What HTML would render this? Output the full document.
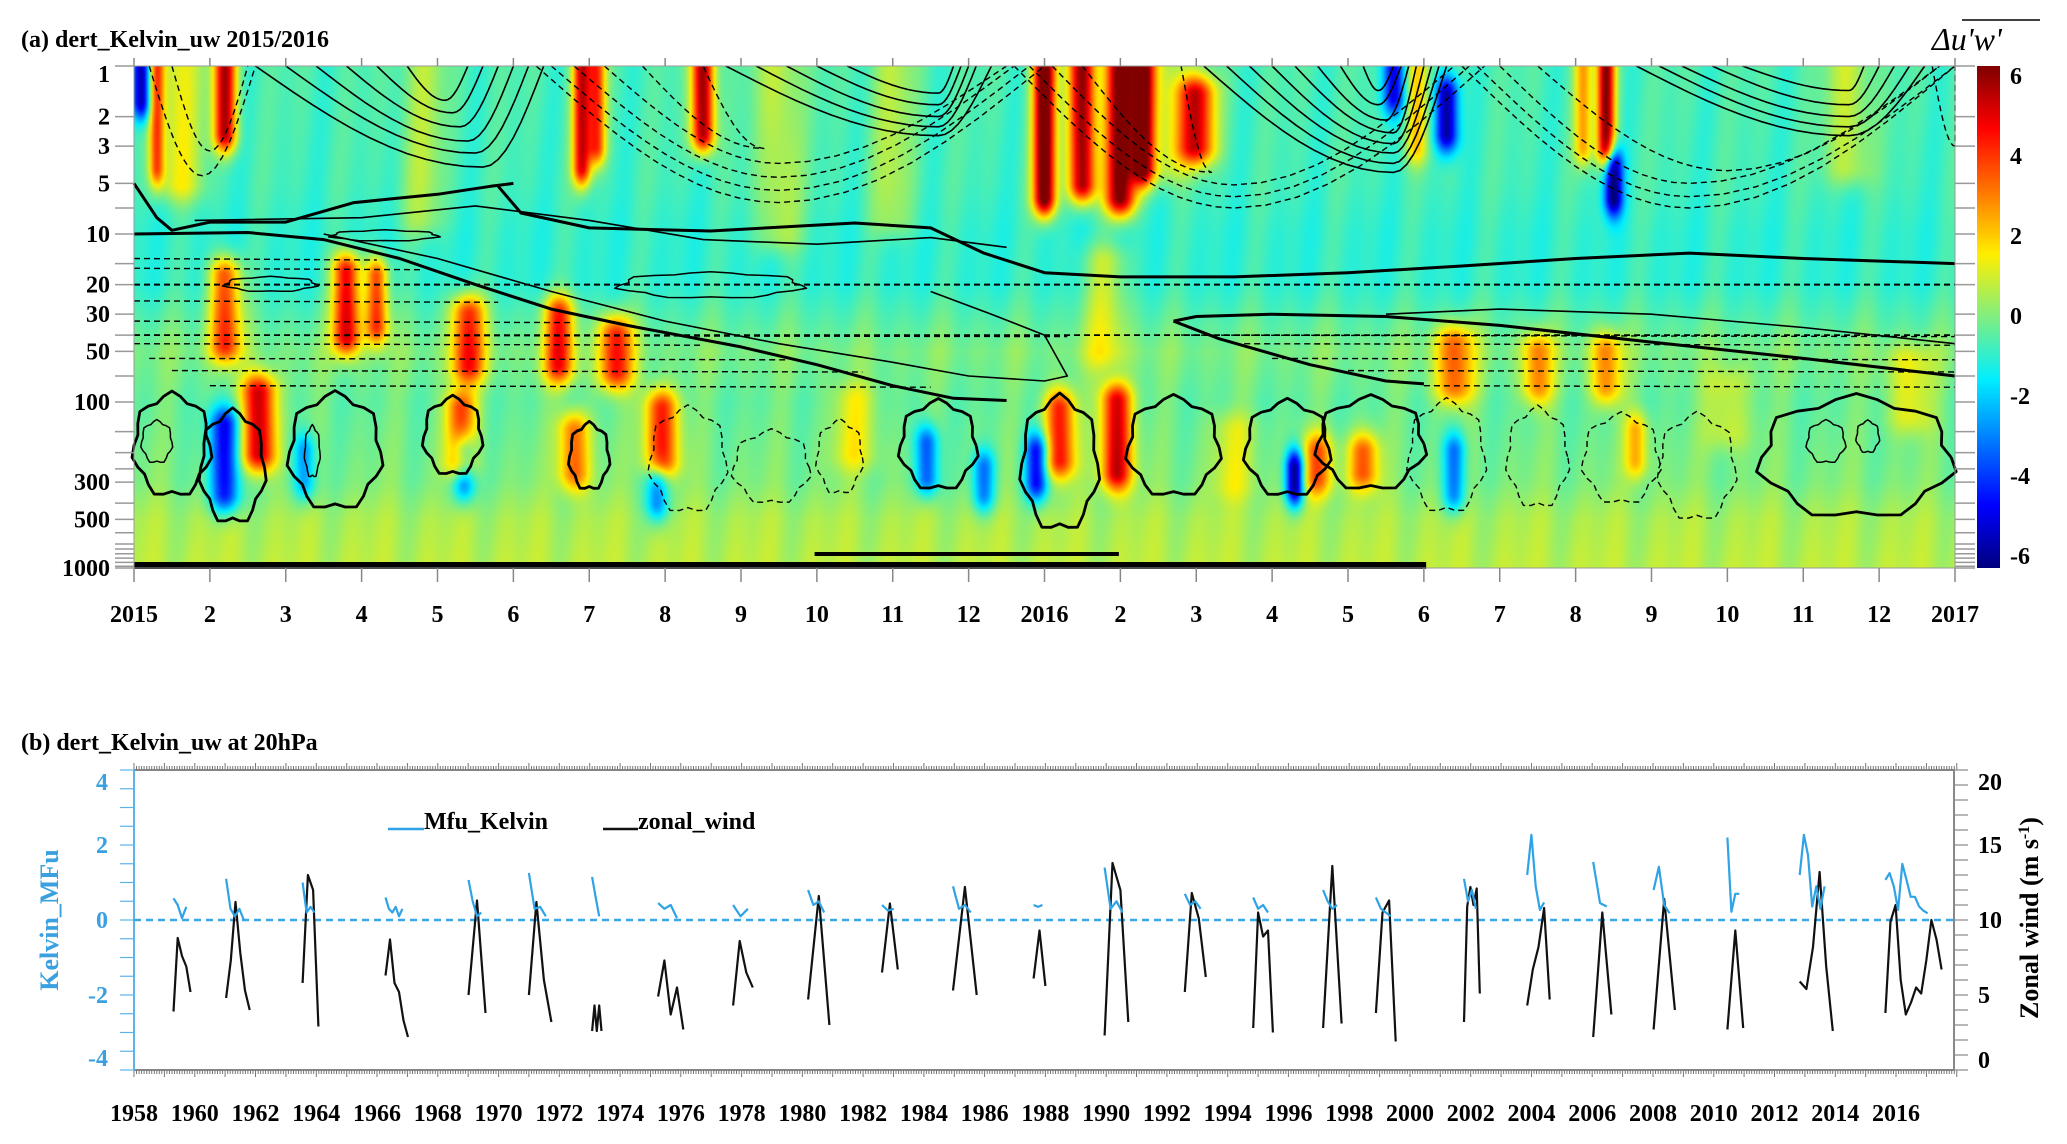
<!DOCTYPE html>
<html><head><meta charset="utf-8"><style>
html,body{margin:0;padding:0;background:#fff;}
#wrap{position:relative;width:2067px;height:1144px;overflow:hidden;font-family:"Liberation Serif",serif;}
#heat{position:absolute;left:134px;top:66px;width:1821px;height:502px;}
#svg{position:absolute;left:0;top:0;}
text{font-family:"Liberation Serif",serif;font-weight:bold;}
</style></head><body>
<div id="wrap">
<canvas id="heat" width="911" height="251"></canvas>
<svg id="svg" width="2067" height="1144" xmlns="http://www.w3.org/2000/svg">
<defs><linearGradient id="cbg" x1="0" y1="1" x2="0" y2="0"></linearGradient></defs>
<text x="21" y="47" font-size="24">(a) dert_Kelvin_uw 2015/2016</text>
<text x="21" y="750" font-size="24">(b) dert_Kelvin_uw at 20hPa</text>
<g id="topg"></g><g id="cbar"></g><g id="bot"></g>
</svg>
</div>
<script>
// ---------- Panel (a) data ----------
const monthLabels=["2015","2","3","4","5","6","7","8","9","10","11","12","2016","2","3","4","5","6","7","8","9","10","11","12","2017"];
const pressureTicks=[1,2,3,5,7,10,15,20,30,40,50,70,100,150,200,250,300,400,500,600,700,750,800,850,900,950,1000];
const pressureLabels=[1,2,3,5,10,20,30,50,100,300,500,1000];
const baseLevels=[1,5,10,20,50,100,300,500,1000];
const baseValues=[-0.6,-0.7,-0.9,-0.9,0.0,-0.3,0.0,0.5,0.7];
const blobMonth=[1.2,0.3,1.2,2.8,3.2,4.4,4.3,5.6,6.35,1.65,5.9,6.1,7.5,6.95,5.8,12.0,12.5,13.0,13.3,12.2,12.95,14.0,15.6,16.2,17.4,18.5,19.4,19.4,19.1,19.8,16.9,1.2,0.1,4.35,6.9,10.45,11.2,11.9,15.3,17.3,19.5,17.4,16.6,2.25,8.5,10.0,12.8,13.6,3.8,9.5,14.5,21.0,22.6,23.4,0.6];
const blobPTop=[1,1,18,17,18,30,110,30,40,90,1,1,1,110,150,1,1,1,1,110,100,1.5,200,200,45,50,1,50,1,150,1,140,1,200,300,180,250,200,250,1.5,4,200,1,200,1,1,15,1,1,100,150,80,1,60,1];
const blobPBot=[2.5,4,45,40,35,60,220,60,65,200,4,3,2.5,220,260,6,5,6,4,220,260,3,280,260,80,80,3,80,3,220,3,350,1.6,300,400,280,350,300,320,2.5,6,350,1.5,300,10,8,50,4,8,200,300,150,4,120,5];
const blobAmp=[6,4,4.5,5.5,4.5,4.5,4,4.5,4.5,5.5,5.5,4.5,6.5,4.5,3.5,7.5,6.5,7,6.5,4.5,5.5,5.5,3.5,3.5,3.5,3,6.5,3,3,2.5,2.5,-4.5,-5,-3.5,-3,-3.5,-3,-4.5,-6,-5,-5.5,-3,-4,-2.5,1.5,1.2,1.5,1.5,1.2,1.5,1.2,1.2,1.5,1.5,2];
const blobWidth=[0.15,0.1,0.2,0.18,0.15,0.22,0.2,0.2,0.22,0.22,0.12,0.12,0.15,0.22,0.2,0.15,0.18,0.2,0.15,0.2,0.2,0.25,0.2,0.2,0.25,0.2,0.12,0.2,0.12,0.15,0.15,0.2,0.12,0.15,0.15,0.15,0.15,0.15,0.12,0.15,0.12,0.15,0.15,0.15,0.3,0.3,0.3,0.3,0.3,0.3,0.3,0.3,0.3,0.3,0.3];
const lineUpper=[[0,5],[0.3,8],[0.5,9.5],[1,8.5],[2,8.5],[2.9,6.5],[4,5.8],[4.7,5.2],[5.0,5]];
const lineMid=[[4.8,5.2],[5.1,7.5],[6,9.2],[7.6,9.6],[9.5,8.6],[10.5,9.2],[11.2,13],[12,17],[13,18],[14.5,18],[16,17],[17.5,15.5],[19,14],[20.5,13],[22,14],[24,15]];
const lineDesc=[[0,10],[1.5,9.8],[2.5,10.8],[3.5,14],[4.5,20],[5.5,28],[6.5,35],[8,47],[9,60],[10,80],[10.8,95],[11.5,98]];
const lineDescThin=[[2.5,10],[4,14],[5.5,22],[7,33],[8.5,45],[10,58],[11,70],[12,75],[12.3,70],[12.0,40],[11.3,30],[10.5,22]];
const lineRight=[[13.7,33],[14,31],[15,30],[16.5,31],[18,35],[20,44],[22,55],[24,70]];
const lineRightB=[[13.7,33],[14.3,42],[15.5,60],[16.5,75],[17,78]];
const lineRightThin=[[16.5,30],[18,28],[20,30],[22,36],[24,45]];
const lineInner=[[0.8,8.3],[3,8.0],[4.5,6.8],[6,8.3],[7.5,10.8],[9,11.5],[10.5,10.5],[11.5,12]];
const solidArcs=[[1.6,4.6,4.0,5.4],[2.0,4.5,3.3,5.2],[2.4,4.4,2.8,5.0],[2.8,4.3,2.3,4.8],[3.2,4.2,1.9,4.6],[3.6,4.1,1.6,4.4],
 [7.8,10.6,2.6,11.3],[8.2,10.6,2.3,11.1],[8.6,10.6,2.0,11.0],[9.0,10.6,1.7,10.9],[9.4,10.6,1.45,10.8],
 [14.1,16.6,4.3,17.3],[14.4,16.6,3.8,17.2],[14.7,16.6,3.3,17.1],[15.0,16.6,2.9,17.0],[15.3,16.6,2.5,16.9],[15.6,16.5,2.1,16.8],[15.9,16.4,1.7,16.7],[16.2,16.4,1.4,16.6],
 [19.8,22.6,2.6,23.6],[20.1,22.6,2.3,23.4],[20.4,22.6,2.0,23.2],[20.8,22.6,1.7,23.0],[21.2,22.6,1.4,22.8]];
const dashedArcs=[[0.2,0.9,4.5,1.6],[0.5,1.0,3.2,1.5],[5.3,8.5,6.5,12],[5.5,8.5,5.5,11.8],[5.8,8.5,4.6,11.6],[6.2,8.5,3.8,11.5],[6.7,8.3,3.1,7.5],
 [11.6,14.5,7.0,17.8],[11.8,14.5,6.0,17.6],[12.1,14.5,5.1,17.4],[12.5,14.2,4.3,13.8],[17.5,20.5,7,24],[17.7,20.5,6,24],[18,20.5,5,23.8],[18.5,21,4.2,23.8],[23.7,24,3,24]];
const dashLineP=[14,16,25,33,40,45,55,65,80,40,45,55,65,80];
const dashLineM0=[0,0,0,0,0,0,0.2,0.5,1,13.8,14.5,15,16,17];
const dashLineM1=[3.2,3.8,4.8,5.8,12.3,7.5,8.6,9.6,10.5,24,24,24,24,24];
const thickLoops=[[0.5,91,360,0.5],[1.3,115,520,0.42],[2.65,91,430,0.6],[4.2,95,270,0.38],[6.0,135,330,0.26],[10.6,100,330,0.5],[12.2,95,570,0.5],[13.7,95,360,0.6],[15.2,100,360,0.55],[16.3,95,330,0.7],[22.7,95,480,1.25]];
const thinLoops=[[0.3,130,230,0.2],[2.35,140,280,0.1],[22.3,130,230,0.25],[22.85,130,200,0.15],[3.3,9.5,11,0.7],[7.6,17,24,1.2],[1.8,18,22,0.6]];
const dashLoops=[[7.3,110,450,0.5],[8.4,150,400,0.5],[9.3,130,350,0.3],[17.3,100,450,0.5],[18.5,110,420,0.4],[19.6,120,400,0.5],[20.6,120,500,0.5]];
const cbTicks=[6,4,2,0,-2,-4,-6];

// ---------- Panel (b) data ----------
const yearLabels=[1958,1960,1962,1964,1966,1968,1970,1972,1974,1976,1978,1980,1982,1984,1986,1988,1990,1992,1994,1996,1998,2000,2002,2004,2006,2008,2010,2012,2014,2016];
const mfuTicks=[4,2,0,-2,-4];
const windTicks=[20,15,10,5,0];
const episodeStart=[1959.3,1961.03,1963.55,1966.28,1969.01,1971.0,1973.08,1975.25,1977.72,1980.19,1982.62,1984.96,1987.61,1989.95,1992.59,1994.84,1997.14,1998.88,2001.78,2003.86,2006.03,2008.02,2010.45,2012.83,2015.65];
const episodeEnd=[1959.86,1961.81,1964.07,1967.02,1969.57,1971.74,1973.39,1976.08,1978.37,1980.89,1983.14,1985.74,1988.0,1990.73,1993.28,1995.49,1997.75,1999.53,2002.3,2004.6,2006.63,2008.72,2010.97,2013.92,2017.5];
const windSeries=[[3.9,8.8,7.6,6.9,5.2],[4.8,7.3,11.2,7.8,5.3,4.0],[5.8,13.0,12.0,2.9],[6.3,8.7,5.8,5.2,3.3,2.2],[5.0,11.3,3.8],[5.0,11.2,6.0,3.2],[2.6,4.3,2.6,4.3,2.6],[4.9,7.3,3.7,5.5,2.7],[4.3,8.6,6.5,5.5],[4.7,11.6,3.0],[6.5,11.1,6.7],[5.3,12.2,5.0],[6.1,9.3,5.6],[2.3,13.8,12.0,3.2],[5.2,11.8,10.1,6.2],[2.8,10.5,8.9,9.3,2.5],[2.8,13.6,3.1],[3.8,10.5,11.3,1.9],[3.2,10.9,12.2,11.0,12.1,5.1],[4.3,6.7,8.2,10.8,4.7],[2.2,10.5,3.7],[2.7,11.4,4.0],[2.7,9.3,2.8],[5.9,5.4,8.2,13.2,6.9,2.6],[3.8,9.9,11.0,6.0,3.7,4.5,5.5,5.1,7.3,10.0,8.7,6.7]];
const mfuSeries=[[0.58,0.4,0.05,0.35],[1.1,0.3,0.1,0.3,0.0],[1.0,0.2,0.35,0.2],[0.6,0.3,0.2,0.35,0.1,0.3],[1.07,0.5,0.1,0.2],[1.25,0.3,0.35,0.1],[1.15,0.6,0.1],[0.45,0.3,0.4,0.05],[0.4,0.1,0.3],[0.8,0.4,0.5,0.2],[0.4,0.25,0.3],[0.9,0.3,0.4,0.2],[0.4,0.35,0.4],[1.4,0.3,0.5,0.2],[0.7,0.4,0.5,0.3],[0.6,0.3,0.4,0.2],[0.8,0.5,0.3,0.4],[0.6,0.3,0.2,0.1],[1.1,0.5,0.8,0.3],[1.2,2.27,0.9,0.27,0.47],[1.55,0.45,0.36],[0.8,1.42,0.4,0.18],[2.2,0.22,0.7,0.7],[1.2,2.27,1.73,0.36,0.9,0.3,0.9],[1.07,1.25,0.9,0.27,1.5,1.07,0.62,0.62,0.36,0.25,0.18]];

// ---------- helpers ----------
const NS="http://www.w3.org/2000/svg";
function mk(parent,tag,attrs,txt){const e=document.createElementNS(NS,tag);for(const k in attrs)e.setAttribute(k,attrs[k]);if(txt!==undefined)e.textContent=txt;parent.appendChild(e);return e;}
const X0=134,X1=1955,YT=66,YB=568;
function xm(m){return X0+(X1-X0)*m/24;}
function yP(p){return Math.min(YB,YT+168*Math.log10(p));}
function jet(v){let t=(v+6)/12;t=Math.max(0,Math.min(1,t));const c=x=>Math.max(0,Math.min(1,1.5-Math.abs(x)));
 return [c(4*t-3)*255,c(4*t-2)*238,c(4*t-1)*255];}
function interpBase(p){const lp=Math.log10(p);for(let i=0;i<baseLevels.length-1;i++){const a=Math.log10(baseLevels[i]),b=Math.log10(baseLevels[i+1]);if(lp<=b){const f=(lp-a)/(b-a);return baseValues[i]+(baseValues[i+1]-baseValues[i])*Math.max(0,f);}}return baseValues[baseValues.length-1];}

// ---------- heatmap ----------
(function(){const cv=document.getElementById('heat');const ctx=cv.getContext('2d');const W=cv.width,H=cv.height;const img=ctx.createImageData(W,H);
 for(let j=0;j<H;j++){const yy=YT+(j+0.5)*(YB-YT)/H;const lp=(yy-YT)/168;const p=Math.pow(10,lp);const base=interpBase(p);
  const gy=blobPTop.map((t,k)=>{const lt=Math.log10(t),lb=Math.log10(blobPBot[k]);const d=Math.max(0,lt-lp,lp-lb);return Math.exp(-(d/0.12)*(d/0.12));});
  for(let i=0;i<W;i++){const m=(i+0.5)*24/W;let v=base+0.35*Math.sin(m*9.3+lp*2)*Math.sin(m*3.1);
   for(let k=0;k<blobMonth.length;k++){if(gy[k]<0.01)continue;const dx=(m-blobMonth[k])/blobWidth[k];if(Math.abs(dx)>3)continue;v+=blobAmp[k]*gy[k]*Math.exp(-dx*dx);}
   const c=jet(v);const o=(j*W+i)*4;img.data[o]=c[0];img.data[o+1]=c[1];img.data[o+2]=c[2];img.data[o+3]=255;}}
 ctx.putImageData(img,0,0);})();

// ---------- panel (a) svg ----------
const gTop=document.getElementById('topg');
function poly(pts,attrs,name){const d=pts.map((q,i)=>(i?'L':'M')+xm(q[0]).toFixed(1)+','+yP(q[1]).toFixed(1)).join('');const e=mk(gTop,'path',Object.assign({d:d,fill:'none',stroke:'#000','stroke-linejoin':'round'},attrs));
 
 
 return e;}
function arc(a){const [ml,mb,pb,mr]=a;const lb=Math.log10(pb);const pts=[];for(let i=0;i<=12;i++){const t=i/12;pts.push([ml+(mb-ml)*t,Math.pow(10,lb*Math.sin(t*Math.PI/2))]);}for(let i=1;i<=8;i++){const t=i/8;pts.push([mb+(mr-mb)*t,Math.pow(10,lb*Math.cos(t*Math.PI/2))]);}return pts;}
function loop(l){const [m,pt,pb,w]=l;const a=Math.log10(pt),b=Math.log10(pb);const pts=[];for(let i=0;i<=28;i++){const th=i/28*2*Math.PI;const r=1+0.08*Math.sin(th*7);pts.push([m+w*r*Math.cos(th),Math.pow(10,(a+b)/2+(b-a)/2*r*Math.sin(th))]);}return pts;}
solidArcs.forEach(a=>poly(arc(a),{'stroke-width':1.6},'solid-contour'));
dashedArcs.forEach(a=>poly(arc(a),{'stroke-width':1.4,'stroke-dasharray':'6 4'},'dashed-contour'));
dashLineP.forEach((p,i)=>poly([[dashLineM0[i],p],[dashLineM1[i],p*1.02]],{'stroke-width':1.4,'stroke-dasharray':'6 4'},'dashed-contour'));
poly([[0,20],[24,20]],{'stroke-width':2,'stroke-dasharray':'6 4'},'dashed-contour-20hpa');
poly([[0,40],[24,40]],{'stroke-width':1.8,'stroke-dasharray':'6 4'},'dashed-contour-40hpa');
[lineUpper,lineMid,lineDesc,lineRight,lineRightB].forEach(l=>poly(l,{'stroke-width':3},'zero-wind-contour'));
[lineDescThin,lineRightThin,lineInner].forEach(l=>poly(l,{'stroke-width':1.6},'wind-contour'));
thickLoops.forEach(l=>poly(loop(l),{'stroke-width':2.8},'closed-contour'));
thinLoops.forEach(l=>poly(loop(l),{'stroke-width':1.5},'closed-contour-thin'));
dashLoops.forEach(l=>poly(loop(l),{'stroke-width':1.4,'stroke-dasharray':'6 4'},'dashed-closed-contour'));
let r=mk(gTop,'rect',{x:xm(0),y:562,width:xm(17.03)-xm(0),height:7,fill:'#000'});


r=mk(gTop,'rect',{x:xm(8.97),y:552,width:xm(12.98)-xm(8.97),height:4,fill:'#000'});


r=mk(gTop,'rect',{x:X0,y:YT,width:X1-X0,height:YB-YT,fill:'none',stroke:'#999','stroke-width':1});


monthLabels.forEach((lab,i)=>{const x=xm(i);mk(gTop,'line',{x1:x,x2:x,y1:YB,y2:YB+14,stroke:'#888','stroke-width':1.5});mk(gTop,'line',{x1:x,x2:x,y1:YT-8,y2:YT,stroke:'#888','stroke-width':1.5});
 const t=mk(gTop,'text',{x:x,y:622,'font-size':24,'text-anchor':'middle'},lab);
 
 });
pressureTicks.forEach(p=>{const y=yP(p);mk(gTop,'line',{x1:115,x2:X0,y1:y,y2:y,stroke:'#999','stroke-width':1.5});mk(gTop,'line',{x1:X1,x2:1975,y1:y,y2:y,stroke:'#999','stroke-width':1.5});});
pressureLabels.forEach(p=>{const y=Math.max(yP(p),74)+8;const t=mk(gTop,'text',{x:110,y:y,'font-size':24,'text-anchor':'end'},String(p));
 
 });
// colorbar
const cb=document.getElementById('cbar');const grad=document.getElementById('cbg');
for(let i=0;i<=24;i++){const v=-6+12*i/24;const c=jet(v);mk(grad,'stop',{offset:(i/24),'stop-color':'rgb('+c.map(Math.round).join(',')+')'});}
r=mk(cb,'rect',{x:1977,y:YT,width:23,height:YB-YT,fill:'url(#cbg)'});


cbTicks.forEach(v=>{const y=YT+10+(6-v)/12*(YB-YT-22)+8;const t=mk(cb,'text',{x:2010,y:y,'font-size':24},String(v));
 
 });
let ct=mk(cb,'text',{x:1932,y:50,'font-size':32,'font-style':'italic',style:'font-weight:normal'},"\u0394u'w'");


mk(cb,'line',{x1:1962,x2:2040,y1:20,y2:20,stroke:'#000','stroke-width':1.5});

// ---------- panel (b) ----------
const bot=document.getElementById('bot');
const BX0=134,BX1=1954,BYT=770,BYB=1070;
function xY(y){return BX0+30.38*(y-1958);}
function yM(v){return 920-37.5*v;}
function yW(w){return 1070-15*w;}
mk(bot,'line',{x1:BX0,x2:BX1,y1:BYT,y2:BYT,stroke:'#888','stroke-width':2});
mk(bot,'line',{x1:BX0,x2:BX1,y1:BYB,y2:BYB,stroke:'#888','stroke-width':2});
let ax=mk(bot,'line',{x1:BX0,x2:BX0,y1:BYT,y2:BYB,stroke:'#5ab4ea','stroke-width':2});


ax=mk(bot,'line',{x1:BX1,x2:BX1,y1:BYT,y2:BYB,stroke:'#888','stroke-width':2});


let tk='';for(let k=0;k<=720;k++){const x=xY(1958+k/12);const L=(k%12===0)?7:4;tk+='M'+x.toFixed(1)+','+BYT+'v-'+L+'M'+x.toFixed(1)+','+BYB+'v'+L;}
mk(bot,'path',{d:tk,stroke:'#777','stroke-width':1,fill:'none'});
for(let v=-4;v<=4;v+=0.5){mk(bot,'line',{x1:120,x2:BX0,y1:yM(v),y2:yM(v),stroke:'#5ab4ea','stroke-width':1.2});}
for(let w=0;w<=20;w++){mk(bot,'line',{x1:BX1,x2:1968,y1:yW(w),y2:yW(w),stroke:'#888','stroke-width':1.2});}
let zl=mk(bot,'line',{x1:BX0,x2:BX1,y1:yM(0),y2:yM(0),stroke:'#3aa8e6','stroke-width':2.5,'stroke-dasharray':'7 5'});


yearLabels.forEach(y=>{const t=mk(bot,'text',{x:xY(y),y:1121,'font-size':24,'text-anchor':'middle'},String(y));
 
 });
mfuTicks.forEach(v=>{const t=mk(bot,'text',{x:108,y:Math.min(Math.max(yM(v),782),1058)+8,'font-size':24,'text-anchor':'end',fill:'#3aa0e0'},String(v));
 
 });
windTicks.forEach(w=>{const t=mk(bot,'text',{x:1978,y:Math.min(Math.max(yW(w),782),1060)+8,'font-size':24},String(w));
 
 });
let yt=mk(bot,'text',{x:0,y:0,'font-size':26,fill:'#3aa0e0','text-anchor':'middle',transform:'translate(58,920) rotate(-90)'},'Kelvin_MFu');


yt=mk(bot,'text',{x:0,y:0,'font-size':26,'text-anchor':'middle',transform:'translate(2038,918) rotate(-90)'});


mk(yt,'tspan',{},'Zonal wind (m s');mk(yt,'tspan',{dy:-9,'font-size':16},'-1');mk(yt,'tspan',{dy:9},')');
episodeStart.forEach((s,i)=>{const e=episodeEnd[i];
 const w=windSeries[i];const dW=w.map((v,k)=>(k?'L':'M')+xY(s+(e-s)*k/(w.length-1)).toFixed(1)+','+yW(v).toFixed(1)).join('');
 const pw=mk(bot,'path',{d:dW,fill:'none',stroke:'#111','stroke-width':2.2,'stroke-linejoin':'round'});
 
 
 const m=mfuSeries[i];const e2=s+(e-s)*0.75;const dM=m.map((v,k)=>(k?'L':'M')+xY(s+(e2-s)*k/(m.length-1)).toFixed(1)+','+yM(v).toFixed(1)).join('');
 const pm=mk(bot,'path',{d:dM,fill:'none',stroke:'#2fa3e6','stroke-width':2.2,'stroke-linejoin':'round'});
 
 });
let lg=mk(bot,'line',{x1:388,x2:424,y1:829,y2:829,stroke:'#2fa3e6','stroke-width':2.5});


lg=mk(bot,'text',{x:424,y:829,'font-size':24},'Mfu_Kelvin');


lg=mk(bot,'line',{x1:603,x2:638,y1:829,y2:829,stroke:'#111','stroke-width':2.5});


lg=mk(bot,'text',{x:638,y:829,'font-size':24},'zonal_wind');


</script>
</body></html>
